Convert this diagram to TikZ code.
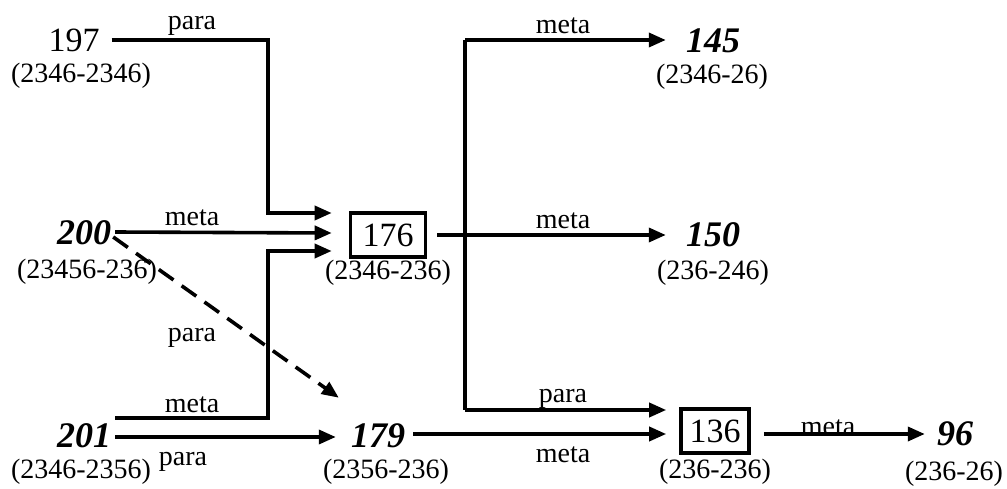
\documentclass[tikz,border=0pt]{standalone}
\usepackage{fontspec}
\setmainfont{Liberation Serif}
\usetikzlibrary{arrows.meta,calc}
\begin{document}
\begin{tikzpicture}[x=1pt,y=-1pt,
  big/.style={inner sep=0pt,font=\fontsize{34}{36}\selectfont},
  bigbi/.style={inner sep=0pt,font=\fontsize{36}{38}\selectfont\bfseries\itshape},
  lab/.style={inner sep=0pt,font=\fontsize{28}{30}\selectfont},
  elab/.style={inner sep=0pt,anchor=base,font=\fontsize{28}{30}\selectfont},
  boxed/.style={draw,line width=3.6pt,minimum width=75pt,minimum height=44pt,inner sep=0pt,font=\fontsize{34}{36}\selectfont},
  conn/.style={line width=3.6pt},
  arr/.style={conn,-{Triangle[length=17pt,width=14pt]}},
  dsh/.style={arr,dash pattern=on 18pt off 10pt},
]
\useasboundingbox (0,0) rectangle (1007,489);

% nodes
\node[big] (n197) at (74,40) {197};
\node[lab] (l197) at (81,76) {(2346-2346)};
\node[bigbi] (n200) at (84,233) {200};
\node[lab] (l200) at (87,272) {(23456-236)};
\node[bigbi] (n201) at (84,436) {201};
\node[lab] (l201) at (81,472) {(2346-2356)};
\node[boxed] (n176) at (388,235) {176};
\node[lab] (l176) at (388,273) {(2346-236)};
\node[bigbi] (n179) at (378,436) {179};
\node[lab] (l179) at (386,472) {(2356-236)};
\node[bigbi] (n145) at (713,41) {145};
\node[lab] (l145) at (712,77) {(2346-26)};
\node[bigbi] (n150) at (713,235) {150};
\node[lab] (l150) at (713,273) {(236-246)};
\node[boxed,minimum width=68pt,minimum height=44pt] (n136) at (715,431) {136};
\node[lab] (l136) at (715,472) {(236-236)};
\node[bigbi] (n96) at (955,434) {96};
\node[lab] (l96) at (954,474) {(236-26)};

% bend / branch points
\coordinate (b197) at (268,40);
\coordinate (b201) at (268,418);
\coordinate (jtop) at (465,40);
\coordinate (jbot) at (465,410);

% connectors into 176
\draw[arr] ([xshift=12pt]n197.east |- b197) -- (b197) |- ([xshift=-17pt,yshift=22pt]n176.west);
\draw[arr] ([xshift=4pt,yshift=1pt]n200.east) -- ([xshift=-17pt,yshift=2pt]n176.west);
\draw[arr] ([xshift=4pt]n201.east |- b201) -- (b201) |- ([xshift=-17pt,yshift=-16pt]n176.west);

% 201 to 179 and dashed 200 to 179
\draw[arr] ([xshift=4pt,yshift=-1pt]n201.east) -- ([xshift=-15pt,yshift=-1pt]n179.west);
\draw[dsh] ([xshift=2pt,yshift=-4pt]n200.east) -- ([xshift=-12pt,yshift=26pt]n179.north west);

% from 176
\draw[arr] ([xshift=10pt]n176.east) -- ([xshift=-20pt]n150.west);
\draw[conn] (jtop) -- (jbot);
\draw[arr] (jtop) -- ([xshift=-20pt]n145.west |- jtop);
\draw[arr] (jbot) -- ([xshift=-13pt]n136.west |- jbot);

% 179 to 136, 136 to 96
\draw[arr] ([xshift=8pt]n179.east |- 0,434) -- ([xshift=-13pt]n136.west |- 0,434);
\draw[arr] ([xshift=13pt]n136.east |- 0,434) -- ([xshift=-12pt]n96.west |- 0,434);

% edge labels
\node[elab] (e1) at (192,30) {para};
\node[elab] (e2) at (192,226) {meta};
\node[elab] (e3) at (192,412) {meta};
\node[elab] (e4) at (183,465) {para};
\node[elab] (e5) at (192,341) {para};
\node[elab] (e6) at (563,34) {meta};
\node[elab] (e7) at (563,229) {meta};
\node[elab] (e8) at (563,402) {para};
\node[elab] (e9) at (563,462) {meta};
\node[elab] (e10) at (828,435) {meta};
\end{tikzpicture}
\end{document}
